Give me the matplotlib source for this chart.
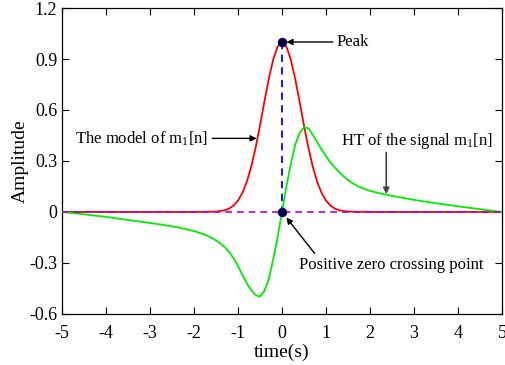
import numpy as np
import matplotlib
matplotlib.use('Agg')
from matplotlib import pyplot as plt

plt.rcParams['font.family'] = ['Liberation Serif', 'DejaVu Serif']
plt.rcParams['mathtext.fontset'] = 'custom'
plt.rcParams['mathtext.rm'] = 'Liberation Serif'
plt.rcParams['mathtext.it'] = 'Liberation Serif:italic'
plt.rcParams['axes.unicode_minus'] = False

# model of m1[n]
t_model = [-5, -2, -1.5, -1.3, -1.2, -1.1, -1.0, -0.9, -0.8, -0.7, -0.6, -0.5, -0.4, -0.3, -0.2, -0.1,
           0, 0.1, 0.2, 0.3, 0.4, 0.5, 0.6, 0.7, 0.8, 0.9, 1.0, 1.1, 1.2, 1.3, 1.5, 2, 5]
a_model = [0, 0, 0.002, 0.010, 0.020, 0.038, 0.067, 0.112, 0.177, 0.266, 0.378, 0.509, 0.649, 0.784, 0.897, 0.973,
           1.0, 0.973, 0.897, 0.784, 0.649, 0.509, 0.378, 0.266, 0.177, 0.112, 0.067, 0.038, 0.020, 0.010, 0.002, 0, 0]

# HT of the signal
t_ht = [-5, -4.5, -4, -3.5, -3, -2.7, -2.4, -2.2, -2.0, -1.8, -1.7, -1.6, -1.5, -1.4, -1.3, -1.2, -1.1,
        -1.0, -0.9, -0.8, -0.7, -0.6, -0.5, -0.4, -0.3, -0.2, -0.1,
        0, 0.1, 0.2, 0.3, 0.4, 0.5, 0.6, 0.7, 0.8, 0.9, 1.0, 1.1, 1.2, 1.3, 1.4, 1.5, 1.6, 1.7,
        1.8, 1.9, 2.0, 2.2, 2.4, 2.7, 3.0, 3.5, 4.0, 4.5, 5.0]
a_ht = [0, -0.014, -0.029, -0.047, -0.065, -0.076, -0.089, -0.1, -0.113, -0.129, -0.14, -0.153, -0.168,
        -0.186, -0.208, -0.237, -0.272, -0.318, -0.37, -0.42, -0.46, -0.49, -0.498, -0.465, -0.395, -0.28, -0.15,
        0, 0.15, 0.28, 0.395, 0.465, 0.498, 0.492, 0.455, 0.41, 0.368, 0.328, 0.292, 0.261, 0.235, 0.21,
        0.188, 0.17, 0.155, 0.143, 0.133, 0.124, 0.111, 0.1, 0.085, 0.071, 0.051, 0.033, 0.016, 0]

peak_t, peak_a = 0, 1.0
zero_t, zero_a = 0, 0.0

xticks = [-5, -4, -3, -2, -1, 0, 1, 2, 3, 4, 5]
yticks = [-0.6, -0.3, 0, 0.3, 0.6, 0.9, 1.2]
yticklabels = ['-0.6', '-0.3', '0', '0.3', '0.6', '0.9', '1.2']

fig = plt.figure(figsize=(5.05, 3.65), dpi=100)
ax = fig.add_axes([0.1228, 0.140, 0.8712, 0.838])

ax.plot(t_model, a_model, color='r', linewidth=1.3, zorder=2)
ax.plot([peak_t, zero_t], [peak_a, zero_a], color='b', linestyle='--', dashes=(4, 3), linewidth=1.3, zorder=3)
ax.plot(t_ht, a_ht, color='#00ee00', linewidth=1.3, zorder=4)
ax.plot([-5, 5], [0, 0], color='m', linestyle='--', dashes=(4, 3), linewidth=1.2, zorder=5)
ax.plot([peak_t, zero_t], [peak_a, zero_a], 'o', markersize=6, markerfacecolor='#000022',
        markeredgecolor='#0000aa', markeredgewidth=0.8, zorder=6)

arr = dict(arrowstyle='-|>', color='k', lw=1.0, mutation_scale=9, shrinkA=1, shrinkB=0)
ax.annotate('Peak', xy=(0.1, 1.0), xytext=(1.25, 1.0), fontsize=12, ha='left', va='center', arrowprops=arr)
ax.annotate('The model of m$_\\mathrm{1}$[n]', xy=(-0.575, 0.433), xytext=(-1.68, 0.433), fontsize=12,
            ha='right', va='center', arrowprops=arr)
ax.text(3.07, 0.42, 'HT of the signal m$_\\mathrm{1}$[n]', fontsize=12, ha='center', va='center')
arr_g = dict(arrowstyle='-|>', color='#444444', lw=1.2, mutation_scale=9, shrinkA=0, shrinkB=0)
ax.annotate('', xy=(2.37, 0.105), xytext=(2.37, 0.35), arrowprops=arr_g)
ax.text(2.48, -0.31, 'Positive zero crossing point', fontsize=12, ha='center', va='center')
ax.annotate('', xy=(0.1, -0.033), xytext=(0.76, -0.25), arrowprops=arr)

ax.set_xlim(-5, 5)
ax.set_ylim(-0.6, 1.2)
ax.set_xticks(xticks)
ax.set_yticks(yticks)
ax.set_yticklabels(yticklabels)
ax.tick_params(direction='in', top=True, right=True, length=5, labelsize=13, width=0.8)
ax.tick_params(axis='x', pad=8)
for s in ax.spines.values():
    s.set_linewidth(0.9)
ax.set_xlabel('time(s)', fontsize=14, labelpad=1)
ax.set_ylabel('Amplitude', fontsize=14, labelpad=0)

fig.savefig('out.png', dpi=100)
